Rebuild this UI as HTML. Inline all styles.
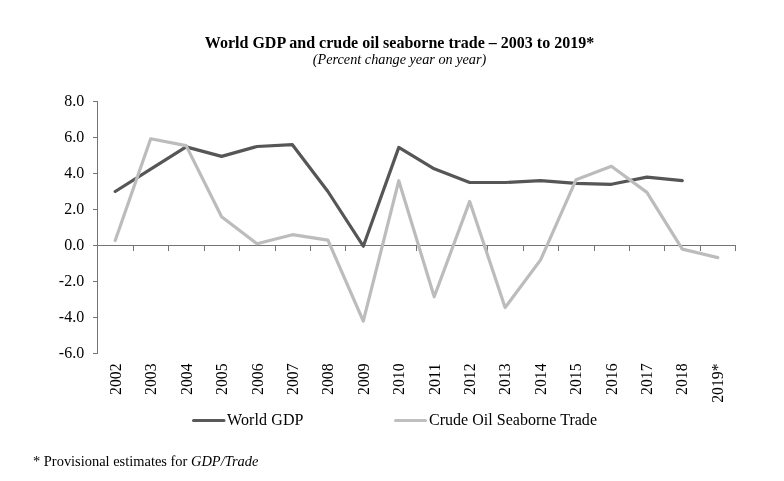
<!DOCTYPE html><html><head><meta charset="utf-8"><title>chart</title><style>html,body{margin:0;padding:0;background:#fff}svg{display:block}text{font-family:"Liberation Serif",serif;fill:#000}</style></head><body>
<svg width="784" height="481" viewBox="0 0 784 481">
<rect width="784" height="481" fill="#fff"/>
<text x="399.5" y="47.6" font-size="16" font-weight="bold" text-anchor="middle">World GDP and crude oil seaborne trade – 2003 to 2019*</text>
<text x="399.5" y="64.4" font-size="14.25" font-style="italic" text-anchor="middle">(Percent change year on year)</text>
<g stroke="#747474" stroke-width="1" shape-rendering="crispEdges" fill="none">
<path d="M97.5 101V354"/>
<path d="M93 245.5H736"/>
<path d="M93 101.5H98"/>
<path d="M93 137.5H98"/>
<path d="M93 173.5H98"/>
<path d="M93 209.5H98"/>
<path d="M93 245.5H98"/>
<path d="M93 281.5H98"/>
<path d="M93 317.5H98"/>
<path d="M93 353.5H98"/>
<path d="M133.5 245V251"/>
<path d="M168.5 245V251"/>
<path d="M204.5 245V251"/>
<path d="M239.5 245V251"/>
<path d="M275.5 245V251"/>
<path d="M310.5 245V251"/>
<path d="M345.5 245V251"/>
<path d="M381.5 245V251"/>
<path d="M416.5 245V251"/>
<path d="M452.5 245V251"/>
<path d="M487.5 245V251"/>
<path d="M523.5 245V251"/>
<path d="M558.5 245V251"/>
<path d="M594.5 245V251"/>
<path d="M629.5 245V251"/>
<path d="M664.5 245V251"/>
<path d="M700.5 245V251"/>
<path d="M735.5 245V251"/>
</g>
<text x="84.2" y="105.6" font-size="16" text-anchor="end">8.0</text>
<text x="84.2" y="141.6" font-size="16" text-anchor="end">6.0</text>
<text x="84.2" y="177.6" font-size="16" text-anchor="end">4.0</text>
<text x="84.2" y="213.6" font-size="16" text-anchor="end">2.0</text>
<text x="84.2" y="249.6" font-size="16" text-anchor="end">0.0</text>
<text x="84.2" y="285.6" font-size="16" text-anchor="end">-2.0</text>
<text x="84.2" y="321.6" font-size="16" text-anchor="end">-4.0</text>
<text x="84.2" y="357.6" font-size="16" text-anchor="end">-6.0</text>
<text transform="translate(121.0,363.5) rotate(-90)" font-size="16" text-anchor="end" textLength="31.4" lengthAdjust="spacingAndGlyphs">2002</text>
<text transform="translate(156.4,363.5) rotate(-90)" font-size="16" text-anchor="end" textLength="31.4" lengthAdjust="spacingAndGlyphs">2003</text>
<text transform="translate(191.8,363.5) rotate(-90)" font-size="16" text-anchor="end" textLength="31.4" lengthAdjust="spacingAndGlyphs">2004</text>
<text transform="translate(227.2,363.5) rotate(-90)" font-size="16" text-anchor="end" textLength="31.4" lengthAdjust="spacingAndGlyphs">2005</text>
<text transform="translate(262.6,363.5) rotate(-90)" font-size="16" text-anchor="end" textLength="31.4" lengthAdjust="spacingAndGlyphs">2006</text>
<text transform="translate(298.0,363.5) rotate(-90)" font-size="16" text-anchor="end" textLength="31.4" lengthAdjust="spacingAndGlyphs">2007</text>
<text transform="translate(333.4,363.5) rotate(-90)" font-size="16" text-anchor="end" textLength="31.4" lengthAdjust="spacingAndGlyphs">2008</text>
<text transform="translate(368.8,363.5) rotate(-90)" font-size="16" text-anchor="end" textLength="31.4" lengthAdjust="spacingAndGlyphs">2009</text>
<text transform="translate(404.2,363.5) rotate(-90)" font-size="16" text-anchor="end" textLength="31.4" lengthAdjust="spacingAndGlyphs">2010</text>
<text transform="translate(439.6,363.5) rotate(-90)" font-size="16" text-anchor="end" textLength="31.4" lengthAdjust="spacingAndGlyphs">2011</text>
<text transform="translate(475.0,363.5) rotate(-90)" font-size="16" text-anchor="end" textLength="31.4" lengthAdjust="spacingAndGlyphs">2012</text>
<text transform="translate(510.4,363.5) rotate(-90)" font-size="16" text-anchor="end" textLength="31.4" lengthAdjust="spacingAndGlyphs">2013</text>
<text transform="translate(545.8,363.5) rotate(-90)" font-size="16" text-anchor="end" textLength="31.4" lengthAdjust="spacingAndGlyphs">2014</text>
<text transform="translate(581.2,363.5) rotate(-90)" font-size="16" text-anchor="end" textLength="31.4" lengthAdjust="spacingAndGlyphs">2015</text>
<text transform="translate(616.6,363.5) rotate(-90)" font-size="16" text-anchor="end" textLength="31.4" lengthAdjust="spacingAndGlyphs">2016</text>
<text transform="translate(652.0,363.5) rotate(-90)" font-size="16" text-anchor="end" textLength="31.4" lengthAdjust="spacingAndGlyphs">2017</text>
<text transform="translate(687.4,363.5) rotate(-90)" font-size="16" text-anchor="end" textLength="31.4" lengthAdjust="spacingAndGlyphs">2018</text>
<text transform="translate(722.8,363.5) rotate(-90)" font-size="16" text-anchor="end" textLength="39.3" lengthAdjust="spacingAndGlyphs">2019*</text>
<polyline points="115.2,191.5 150.7,169.2 186.1,146.9 221.6,156.4 257.0,146.5 292.4,144.7 327.9,191.5 363.3,246.2 398.8,147.4 434.2,168.8 469.7,182.5 505.1,182.5 540.6,180.7 576.0,183.4 611.4,184.3 646.9,177.1 682.3,180.7" fill="none" stroke="#565656" stroke-width="3.2" stroke-linejoin="round" stroke-linecap="round"/>
<polyline points="115.2,240.5 150.7,138.8 186.1,145.6 221.6,216.7 257.0,243.7 292.4,234.7 327.9,240.1 363.3,321.1 398.8,180.7 434.2,296.8 469.7,201.4 505.1,307.6 540.6,259.9 576.0,179.8 611.4,166.3 646.9,192.4 682.3,249.1 717.8,257.6" fill="none" stroke="#bcbcbc" stroke-width="3.2" stroke-linejoin="round" stroke-linecap="round"/>
<path d="M193.5 420.5H224" stroke="#595959" stroke-width="3" stroke-linecap="round"/>
<text x="227" y="424.5" font-size="16" textLength="76.5">World GDP</text>
<path d="M395.5 420.5H425.5" stroke="#bfbfbf" stroke-width="3" stroke-linecap="round"/>
<text x="429" y="424.5" font-size="16" textLength="168">Crude Oil Seaborne Trade</text>
<text x="33" y="465.8" font-size="14.45">* Provisional estimates for <tspan font-style="italic">GDP/Trade</tspan></text>
</svg></body></html>
